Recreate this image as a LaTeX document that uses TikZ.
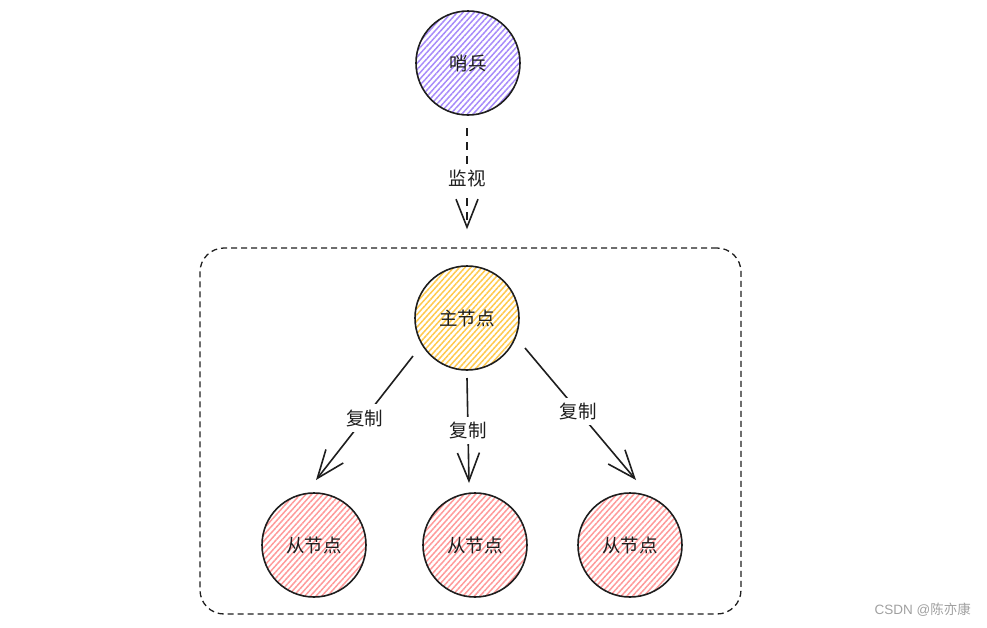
\documentclass[tikz,border=0pt]{standalone}
\usepackage{fontspec}
\newfontfamily\cjk{Noto Sans CJK SC}
\newfontfamily\wmfont{Liberation Sans}
\usetikzlibrary{arrows.meta,patterns.meta,calc}
\definecolor{ink}{HTML}{1E1E1E}
\definecolor{violetfill}{HTML}{A78BFA}
\definecolor{yellowfill}{HTML}{FFC94D}
\definecolor{redfill}{HTML}{FF9A9A}
\definecolor{wmgray}{HTML}{A0A0A0}
\tikzset{
  roundnode/.style={circle, draw=ink, line width=1.6pt, minimum size=104pt, inner sep=0pt,
    font=\cjk\fontsize{18.5}{22}\selectfont, text=ink},
  sentinel/.style={roundnode, pattern={Lines[angle=48,distance=4.2pt,line width=1.5pt]}, pattern color=violetfill},
  master/.style={roundnode, pattern={Lines[angle=48,distance=4.2pt,line width=1.5pt]}, pattern color=yellowfill},
  slave/.style={roundnode, pattern={Lines[angle=48,distance=4.2pt,line width=1.5pt]}, pattern color=redfill},
  arr/.style={draw=ink, line width=1.6pt, -{Straight Barb[length=28pt,width=22pt,line width=1.6pt]}},
  lbl/.style={fill=white, inner sep=5pt, font=\cjk\fontsize{18.5}{22}\selectfont, text=ink},
  groupbox/.style={draw=ink, line width=1.3pt, dash pattern=on 6pt off 4pt, rounded corners=24pt},
}
\begin{document}
\begin{tikzpicture}[x=1pt,y=-1pt]
\useasboundingbox (0,0) rectangle (987,627);
\node[groupbox, minimum width=541pt, minimum height=366pt, inner sep=0pt] (box) at (470.5,431) {};
\node[sentinel] (sen) at (468,63) {哨兵};
\node[master] (m) at (467,318) {主节点};
\node[slave] (s1) at (314,545) {从节点};
\node[slave] (s2) at (475,545) {从节点};
\node[slave] (s3) at (630,545) {从节点};
% connector ends
\coordinate (d0) at ($(sen.center)+(-1,65)$);
\coordinate (d1) at ($(box.north -| sen.center)+(-1,-18)$);
\coordinate (a0) at ($(m.center)+(-54,38)$);
\coordinate (a1) at ($(s1.center)+(2,-65)$);
\coordinate (b0) at ($(m.center)+(0,60)$);
\coordinate (b1) at ($(s2.center)+(-6,-62)$);
\coordinate (c0) at ($(m.center)+(58,30)$);
\coordinate (c1) at ($(s3.center)+(6,-65)$);
\draw[arr, dash pattern=on 8pt off 6pt] (d0) -- (d1) node[midway, lbl] (l0) {监视};
\draw[arr] (a0) -- (a1) node[midway, lbl] (l1) {复制};
\draw[arr] (b0) -- (b1) node[midway, lbl] (l2) {复制};
\draw[arr] (c0) -- (c1) node[pos=0.48, lbl] (l3) {复制};
\node[text=wmgray, anchor=east, inner sep=0pt, font=\wmfont\fontsize{13.5}{16}\selectfont] (wm) at (971,610) {CSDN @{\cjk 陈亦康}};
\end{tikzpicture}
\end{document}
